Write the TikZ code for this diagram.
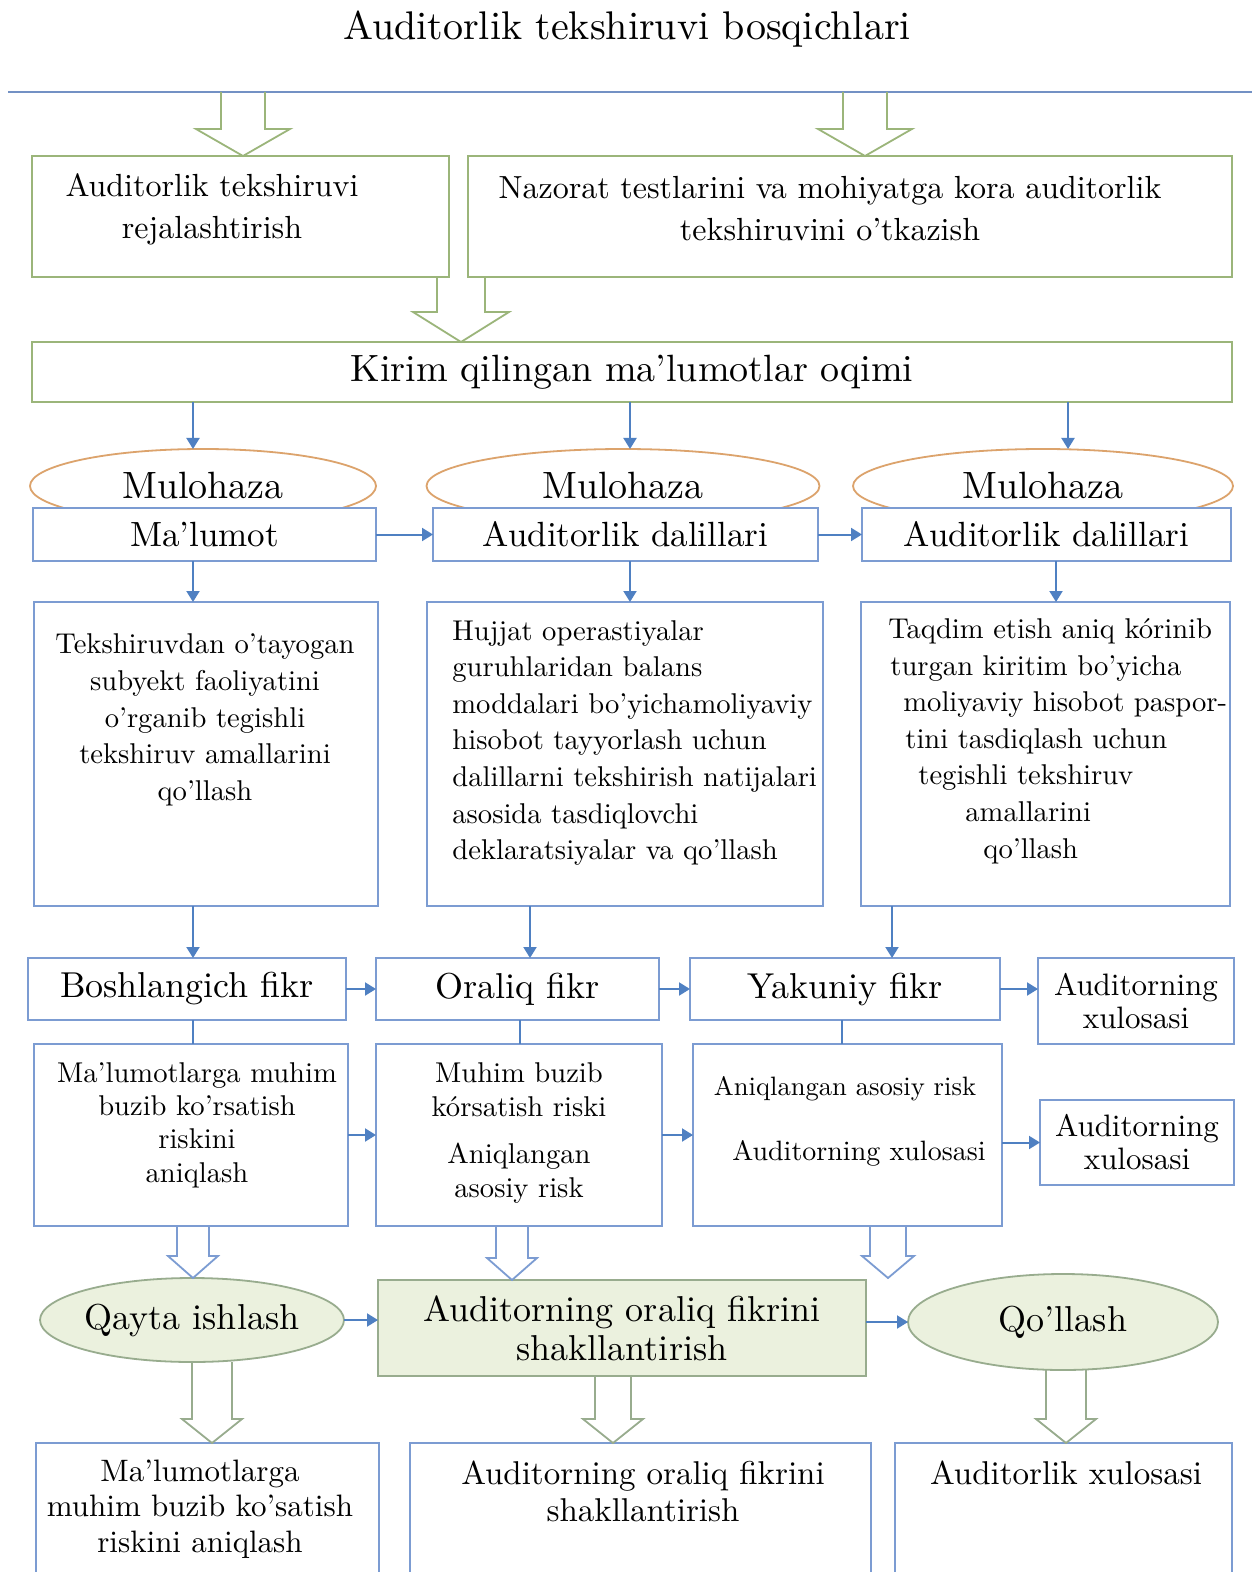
\documentclass[tikz,border=0pt]{standalone}
\usepackage{fontspec}
\setmainfont{lmroman10-regular.otf}
\usetikzlibrary{shapes.geometric,arrows.meta,calc}
\definecolor{gline}{HTML}{9BB57A}
\definecolor{bline}{HTML}{7C9CD2}
\definecolor{abl}{HTML}{4F80C2}
\definecolor{orl}{HTML}{DCA36C}
\definecolor{gfill}{HTML}{EBF1DE}
\definecolor{topl}{HTML}{7391C4}
\definecolor{ggray}{HTML}{98AC8E}
\newcommand\setfs[2]{\fontsize{#1}{#2}\selectfont}
\newcommand\mybox[7]{\node[#6, minimum width={(#4-(#2))*0.5pt}, minimum height={(#5-(#3))*0.5pt}] (#1) at ({(#2+#4)/2},{(#3+#5)/2}) {#7};}
\newcommand\hollow[6]{\draw[#1] let \p1=#2, \p2=#3 in (\x2-#4,\y1) -- (\x2-#4,\y2+#6) -- (\x2-#5,\y2+#6) -- (\x2,\y2) -- (\x2+#5,\y2+#6) -- (\x2+#4,\y2+#6) -- (\x2+#4,\y1);}
\begin{document}
\begin{tikzpicture}[x=0.5pt,y=-0.5pt,
 gbox/.style={draw=gline,line width=0.9pt,fill=white,inner sep=0pt,outer sep=0pt,align=center},
 bbox/.style={draw=bline,line width=0.9pt,fill=white,inner sep=0pt,outer sep=0pt,align=center},
 arr/.style={draw=abl,line width=1pt,-{Triangle[length=5.5pt,width=6.5pt]}},
 conn/.style={draw=abl,line width=1pt},
 txt/.style={inner sep=0pt,align=center,text=black},
 hg/.style={draw=gline,line width=0.9pt},
 hb/.style={draw=bline,line width=0.9pt},
 hgg/.style={draw=ggray,line width=0.9pt},
 ell/.style={ellipse,line width=0.9pt,inner sep=0pt,outer sep=0pt}]
\fill[white] (0,0) rectangle (1252,1572);
\useasboundingbox (0,0) rectangle (1252,1572);
\clip (0,0) rectangle (1252,1572);

% columns
\coordinate (tA) at (243,0); \coordinate (tB) at (865,0); \coordinate (tm) at (461,0);
\coordinate (k1) at (193,0); \coordinate (k2) at (630,0); \coordinate (k3) at (1068,0);
\coordinate (d1) at (193,0); \coordinate (d2) at (630,0); \coordinate (d3) at (1056,0);
\coordinate (cf1) at (193,0); \coordinate (cf2) at (530,0); \coordinate (cf3) at (892,0);
\coordinate (cg1) at (193,0); \coordinate (cg2) at (520,0); \coordinate (cg3) at (842,0);
\coordinate (ch1) at (193,0); \coordinate (ch2) at (512,0); \coordinate (ch3) at (888,0);
\coordinate (cj1) at (212,0); \coordinate (cj2) at (613,0); \coordinate (cj3) at (1066,0);

% title and line
\node[txt,font=\setfs{20}{24},anchor=base] (title) at (627,40) {Auditorlik tekshiruvi bosqichlari};
\coordinate (tl) at (8,92); \coordinate (tr) at (1252,92);
\draw[topl,line width=1.2pt] (tl) -- (tr);

% top boxes
\mybox{ba}{32}{156}{449}{277}{gbox}{}
\mybox{bb}{468}{156}{1232}{277}{gbox}{}
\node[txt,font=\setfs{16}{21}] (ta) at (212,209) {Auditorlik tekshiruvi\\rejalashtirish};
\node[txt,font=\setfs{16}{21}] (tb) at (830,209) {Nazorat testlarini va mohiyatga kora auditorlik\\tekshiruvini o’tkazish};
\mybox{kir}{32}{342}{1232}{402}{gbox,font=\setfs{19}{23}}{Kirim qilingan ma’lumotlar oqimi}

\hollow{hg}{(tl -| tA)}{(ba.north -| tA)}{11pt}{23.5pt}{13.5pt}
\hollow{hg}{(tl -| tB)}{(bb.north -| tB)}{11pt}{23.5pt}{13.5pt}
\hollow{hg}{(ba.south -| tm)}{(kir.north -| tm)}{12pt}{24pt}{15pt}

% ellipses
\node[ell,draw=orl,minimum width=173pt,minimum height=37pt,font=\setfs{19}{23}] (e1) at (203,486) {Mulohaza};
\node[ell,draw=orl,minimum width=196.5pt,minimum height=37pt,font=\setfs{19}{23}] (e2) at (623,486) {Mulohaza};
\node[ell,draw=orl,minimum width=190pt,minimum height=37pt,font=\setfs{19}{23}] (e3) at (1043,486) {Mulohaza};
\draw[arr] (kir.south -| k1) -- (e1.north -| k1);
\draw[arr] (kir.south -| k2) -- (e2.north -| k2);
\draw[arr] (kir.south -| k3) -- (e3.north -| k3);

% B row
\mybox{b1}{33}{508}{376}{561}{bbox,font=\setfs{17.5}{21}}{Ma’lumot}
\mybox{b2}{433}{508}{818}{561}{bbox,font=\setfs{17.5}{21}}{Auditorlik dalillari}
\mybox{b3}{862}{508}{1231}{561}{bbox,font=\setfs{17.5}{21}}{Auditorlik dalillari}
\draw[arr] (b1.east) -- (b2.west);
\draw[arr] (b2.east) -- (b3.west);

% T row
\mybox{t1}{34}{602}{378}{906}{bbox}{}
\mybox{t2}{427}{602}{823}{906}{bbox}{}
\mybox{t3}{861}{602}{1230}{906}{bbox}{}
\draw[arr] (b1.south -| d1) -- (t1.north -| d1);
\draw[arr] (b2.south -| d2) -- (t2.north -| d2);
\draw[arr] (b3.south -| d3) -- (t3.north -| d3);
\node[txt,font=\setfs{14.3}{18.3}] (x1) at (205,720) {Tekshiruvdan o’tayogan\\subyekt faoliyatini\\o’rganib tegishli\\tekshiruv amallarini\\qo’llash};
\node[txt,align=left,anchor=west,font=\setfs{14.3}{18.3}] (x2) at (452,743) {Hujjat operastiyalar\\guruhlaridan balans\\moddalari bo’yichamoliyaviy\\hisobot tayyorlash uchun\\dalillarni tekshirish natijalari\\asosida tasdiqlovchi\\deklaratsiyalar va qo’llash};
\node[txt,align=left,anchor=west,font=\setfs{14.3}{18.3}] (x3) at (888,741) {Taqdim etish aniq kórinib\\\hspace*{1pt}turgan kiritim bo’yicha\\\hspace*{7.5pt}moliyaviy hisobot paspor-\\\hspace*{8.5pt}tini tasdiqlash uchun\\\hspace*{15pt}tegishli tekshiruv\\\hspace*{38.5pt}amallarini\\\hspace*{47.5pt}qo’llash};

% F row
\mybox{f1n}{28}{958}{346}{1020}{bbox,font=\setfs{18}{22}}{Boshlangich fikr}
\mybox{f2n}{376}{958}{659}{1020}{bbox,font=\setfs{18}{22}}{Oraliq fikr}
\mybox{f3n}{690}{958}{1000}{1020}{bbox,font=\setfs{18}{22}}{Yakuniy fikr}
\mybox{a1}{1038}{958}{1234}{1044}{bbox,font=\setfs{15.5}{16.5}}{Auditorning\\xulosasi}
\draw[arr] (t1.south -| cf1) -- (f1n.north -| cf1);
\draw[arr] (t2.south -| cf2) -- (f2n.north -| cf2);
\draw[arr] (t3.south -| cf3) -- (f3n.north -| cf3);
\draw[arr] (f1n.east) -- (f2n.west);
\draw[arr] (f2n.east) -- (f3n.west);
\draw[arr] (f3n.east) -- (f3n.east -| a1.west);

% R row
\mybox{r1}{34}{1044}{348}{1226}{bbox}{}
\mybox{r2}{376}{1044}{662}{1226}{bbox}{}
\mybox{r3}{693}{1044}{1002}{1226}{bbox}{}
\mybox{a2}{1040}{1100}{1234}{1185}{bbox,font=\setfs{15.5}{16.5}}{Auditorning\\xulosasi}
\draw[conn] (f1n.south -| cg1) -- (r1.north -| cg1);
\draw[conn] (f2n.south -| cg2) -- (r2.north -| cg2);
\draw[conn] (f3n.south -| cg3) -- (r3.north -| cg3);
\draw[arr] (r1.east) -- (r2.west);
\draw[arr] (r2.east) -- (r3.west);
\draw[arr] (r3.east |- a2.west) -- (a2.west);
\node[txt,font=\setfs{14.3}{16.7}] (y1) at (197,1125) {Ma’lumotlarga muhim\\buzib ko’rsatish\\riskini\\aniqlash};
\node[txt,font=\setfs{14.3}{16.9}] (y2) at (519,1133) {Muhim buzib\\kórsatish riski\\[7pt]Aniqlangan\\asosiy risk};
\node[txt,font=\setfs{13.3}{16}] (y3a) at (845,1089) {Aniqlangan asosiy risk};
\node[txt,font=\setfs{14}{16}] (y3b) at (859,1153) {Auditorning xulosasi};

% row 6
\node[ell,draw=ggray,fill=gfill,minimum width=152pt,minimum height=42pt,font=\setfs{18}{22}] (q) at (192,1320) {Qayta ishlash};
\mybox{m}{378}{1280}{866}{1376}{gbox,draw=ggray,fill=gfill,font=\setfs{18}{19.5}}{Auditorning oraliq fikrini\\shakllantirish}
\node[ell,draw=ggray,fill=gfill,minimum width=155pt,minimum height=48pt,font=\setfs{18}{22}] (q2) at (1063,1322) {Qo’llash};
\coordinate (r3tip) at (888,1278);
\hollow{hb}{(r1.south -| ch1)}{(q.north -| ch1)}{8pt}{12.5pt}{11pt}
\hollow{hb}{(r2.south -| ch2)}{(m.north -| ch2)}{8pt}{12.5pt}{11pt}
\hollow{hb}{(r3.south -| ch3)}{(r3tip)}{9pt}{13pt}{11pt}
\draw[arr] (q.east) -- (m.west |- q.east);
\draw[arr] (m.east |- q2.west) -- (q2.west);

% bottom row
\mybox{l1}{36}{1443}{379}{1600}{bbox}{}
\mybox{l2}{410}{1443}{871}{1600}{bbox}{}
\mybox{l3}{895}{1443}{1232}{1600}{bbox}{}
\node[txt,font=\setfs{15.5}{17.75}] (z1) at (200,1509) {Ma’lumotlarga\\muhim buzib ko’satish\\riskini aniqlash};
\node[txt,font=\setfs{16.5}{18.5}] (z2) at (643,1491) {Auditorning oraliq fikrini\\shakllantirish};
\node[txt,font=\setfs{16.5}{20}] (z3) at (1066,1473) {Auditorlik xulosasi};
\hollow{hgg}{(q.south -| cj1)}{(l1.north -| cj1)}{10pt}{15pt}{12pt}
\hollow{hgg}{(m.south -| cj2)}{(l2.north -| cj2)}{9pt}{15pt}{12pt}
\hollow{hgg}{(q2.south -| cj3)}{(l3.north -| cj3)}{10pt}{15pt}{12pt}
\end{tikzpicture}
\end{document}
